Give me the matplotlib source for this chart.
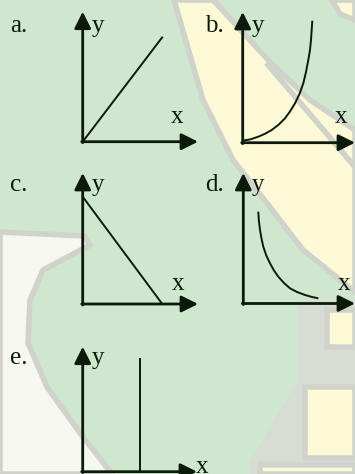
import matplotlib
matplotlib.use("Agg")
import matplotlib.pyplot as plt
from matplotlib.patches import Polygon

# panel labels
labels = ["a.", "b.", "c.", "d.", "e."]

# axis origins and arrow tips (picture pixels, y downwards)
origins = [(82.7, 141.7), (242.7, 142.7), (82.7, 304.0), (243.3, 303.5), (82.7, 471.7)]
x_tips = [198.0, 355.0, 198.0, 355.0, 197.0]
y_tips = [11.7, 12.0, 173.0, 173.0, 346.7]

# curves
curve_a_x = [82.7, 162.7]
curve_a_y = [141.7, 36.7]
curve_b_x = [243.3, 250.0, 258.3, 265.0, 271.7, 278.5, 285.0, 290.0, 295.0, 299.5, 303.3, 306.0, 308.3, 310.0, 311.0, 312.3]
curve_b_y = [140.5, 139.5, 136.7, 133.8, 130.0, 124.8, 118.3, 111.5, 103.3, 94.0, 83.3, 72.0, 60.0, 50.0, 40.0, 20.7]
curve_c_x = [82.7, 162.3]
curve_c_y = [196.7, 304.0]
curve_d_x = [258.3, 258.9, 260.0, 261.5, 263.3, 266.3, 270.0, 274.0, 278.3, 284.0, 290.0, 297.0, 305.0, 312.0, 318.3]
curve_d_y = [211.7, 221.0, 230.0, 238.5, 246.7, 255.5, 263.3, 270.5, 276.7, 283.0, 288.3, 292.0, 295.0, 297.0, 298.3]
curve_e_x = [140.0, 140.0]
curve_e_y = [358.3, 471.7]
curves = [(curve_a_x, curve_a_y), (curve_b_x, curve_b_y), (curve_c_x, curve_c_y),
          (curve_d_x, curve_d_y), (curve_e_x, curve_e_y)]

# text anchors (left, baseline)
label_pos = [(10, 32), (205, 32), (10, 191), (205, 191), (10, 364)]
ylab_pos = [(92, 32), (252, 32), (92, 191), (252, 191), (92, 364)]
xlab_pos = [(171, 123), (335, 123), (172, 290), (338, 290), (196, 473)]

ink = "#0b1a0b"
green = "#cfe6cf"
yellow = "#fdf9d6"
white = "#f6f7f1"
edge = "#d0d3cb"

fig = plt.figure(figsize=(3.55, 4.74), dpi=100)
fig.patch.set_facecolor(green)
ax = fig.add_axes([0, 0, 1, 1])
ax.set_xlim(0, 355)
ax.set_ylim(474, 0)
ax.axis("off")
ax.set_facecolor(green)

# faint watermark behind the sketches
ax.add_patch(Polygon([(298, 300), (355, 300), (355, 474), (250, 474), (250, 462), (298, 380)],
                     closed=True, facecolor="#d7ddd3", edgecolor="none", zorder=0))
shapes = [
    ([(0, 232), (84, 236), (90, 245), (43, 270), (30, 300), (28, 343), (47, 387), (80, 433), (112, 474), (0, 474)], white),
    ([(174, 0), (213, 0), (270, 62), (310, 100), (355, 130), (355, 292), (303, 250), (270, 207), (233, 160), (203, 100)], yellow),
    ([(332, 0), (355, 0), (355, 20), (340, 14)], yellow),
    ([(327, 310), (355, 310), (355, 347), (327, 347)], yellow),
    ([(305, 387), (355, 387), (355, 458), (305, 458)], yellow),
    ([(260, 465), (355, 465), (355, 474), (260, 474)], yellow),
]
for pts, col in shapes:
    ax.add_patch(Polygon(pts, closed=True, facecolor=col, edgecolor=edge, lw=4, zorder=0))
ax.plot([268, 355], [65, 167], color=edge, lw=4, zorder=0)

arrow = dict(arrowstyle="-|>,head_length=1.0,head_width=0.5", lw=2.0, color=ink,
             shrinkA=0, shrinkB=0, mutation_scale=10)

for i in range(len(labels)):
    ox, oy = origins[i]
    ax.annotate("", xy=(x_tips[i], oy), xytext=(ox - 1, oy), arrowprops=arrow, zorder=3)
    ax.annotate("", xy=(ox, y_tips[i]), xytext=(ox, oy + 1), arrowprops=arrow, zorder=3)
    cx, cy = curves[i]
    ax.plot(cx, cy, color=ink, lw=1.4, zorder=3, solid_capstyle="butt")
    ax.text(label_pos[i][0], label_pos[i][1], labels[i], fontsize=18,
            family="Liberation Serif", color=ink, va="baseline", ha="left")
    ax.text(ylab_pos[i][0], ylab_pos[i][1], "y", fontsize=18,
            family="Liberation Serif", color=ink, va="baseline", ha="left")
    ax.text(xlab_pos[i][0], xlab_pos[i][1], "x", fontsize=18,
            family="Liberation Serif", color=ink, va="baseline", ha="left")

fig.savefig("out.png", dpi=100, facecolor=fig.get_facecolor())
